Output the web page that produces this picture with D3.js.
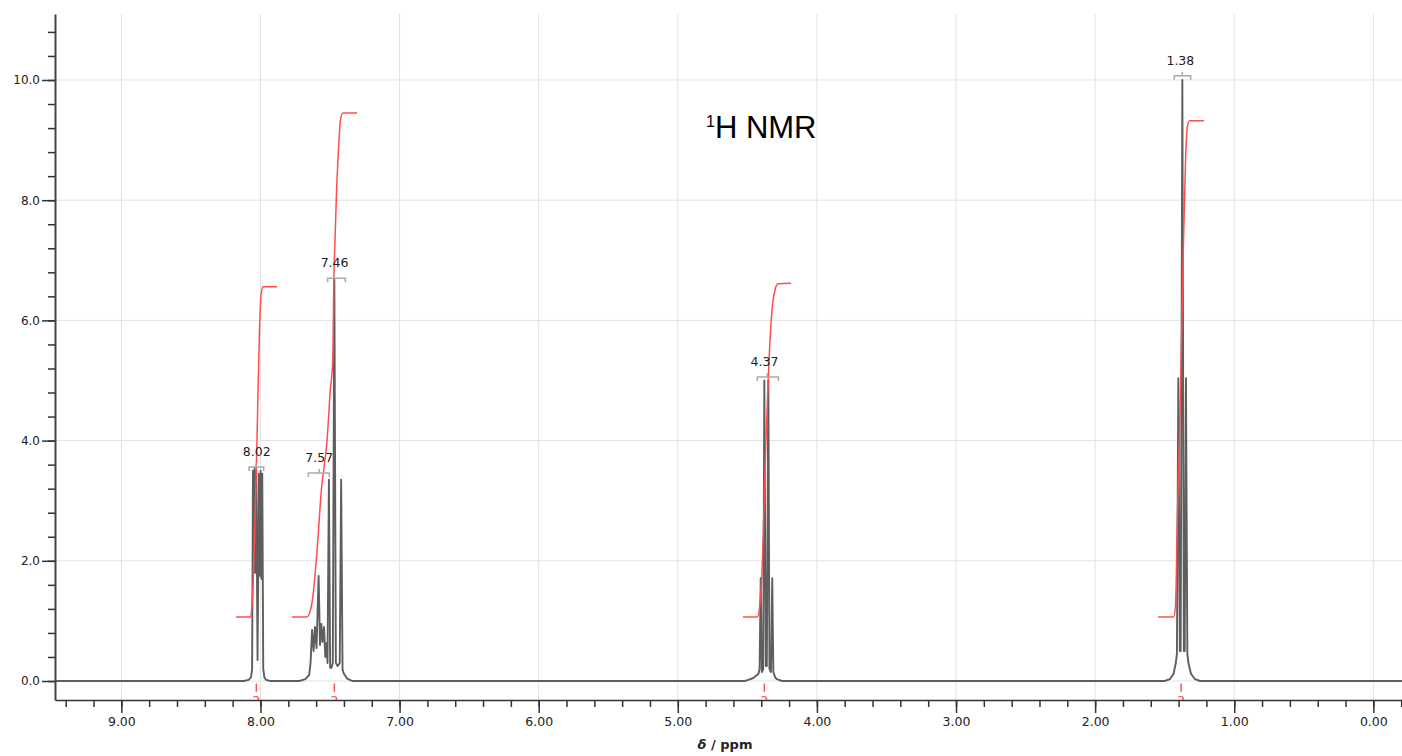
<!DOCTYPE html>
<html>
<head>
<meta charset="utf-8">
<script src="https://cdn.jsdelivr.net/npm/d3@7"></script>
<style>
  body { margin: 0; background: #fff; }
  svg { display: block; }
  .tick text { font-family: "DejaVu Sans", Verdana, sans-serif; fill: #222; }
</style>
</head>
<body>
<svg id="chart" width="1402" height="756"></svg>
<script>
// spectrum multiplets, [ppm, intensity]
const mult802 = [[8.120, 0], [8.085, 0.02], [8.068, 0.06], [8.060, 0.2], [8.054, 3.5], [8.048, 1.8], [8.042, 3.55],
  [8.036, 1.8], [8.030, 3.5], [8.021, 0.35], [8.011, 3.45], [8.005, 1.75], [7.999, 3.5], [7.993, 1.7], [7.987, 3.45],
  [7.980, 0.2], [7.972, 0.06], [7.960, 0.02], [7.930, 0]]
const mult757 = [[7.720, 0], [7.678, 0.03], [7.650, 0.10], [7.640, 0.3], [7.629, 0.85], [7.618, 0.5], [7.608, 0.9],
  [7.597, 0.55], [7.582, 1.75], [7.572, 0.6], [7.562, 0.95], [7.554, 0.65], [7.543, 0.9], [7.534, 0.4], [7.527, 0.63],
  [7.518, 0.3], [7.508, 3.35], [7.499, 0.22], [7.490, 0.22], [7.480, 0.3], [7.469, 6.7], [7.458, 0.3], [7.445, 0.25],
  [7.430, 0.3], [7.420, 3.35], [7.410, 0.2], [7.402, 0.13], [7.377, 0.04], [7.340, 0]]
const mult437 = [[4.520, 0], [4.493, 0.02], [4.457, 0.05], [4.420, 0.12], [4.412, 0.2], [4.404, 1.71], [4.396, 0.15],
  [4.386, 0.2], [4.378, 5.0], [4.367, 0.25], [4.360, 0.25], [4.349, 5.0], [4.341, 0.2], [4.330, 0.15], [4.321, 1.71],
  [4.313, 0.15], [4.300, 0.06], [4.289, 0.03], [4.250, 0]]
const mult138 = [[1.500, 0], [1.462, 0.03], [1.436, 0.12], [1.420, 0.3], [1.412, 0.45], [1.402, 5.04], [1.391, 0.5],
  [1.385, 0.5], [1.373, 10.0], [1.362, 0.5], [1.356, 0.5], [1.347, 5.04], [1.337, 0.45], [1.329, 0.3], [1.311, 0.12],
  [1.282, 0.03], [1.246, 0]]

// integral curves, [ppm, value]
const integ802 = [[8.176, 1.065], [8.070, 1.065], [8.061, 1.26], [8.054, 1.56], [8.025, 4.01], [8.007, 5.84],
  [7.996, 6.42], [7.982, 6.56], [7.881, 6.56]]
const integ757 = [[7.774, 1.065], [7.666, 1.065], [7.644, 1.15], [7.622, 1.43], [7.593, 2.18], [7.562, 3.18],
  [7.521, 4.01], [7.498, 4.84], [7.480, 5.34], [7.473, 6.62], [7.464, 7.34], [7.454, 8.09], [7.439, 8.84],
  [7.425, 9.33], [7.407, 9.45], [7.306, 9.45]]
const integ437 = [[4.531, 1.065], [4.428, 1.065], [4.409, 1.30], [4.397, 1.71], [4.366, 4.01], [4.337, 5.67],
  [4.319, 6.26], [4.301, 6.51], [4.280, 6.61], [4.186, 6.62]]
const integ138 = [[1.548, 1.065], [1.436, 1.065], [1.422, 1.26], [1.409, 2.68], [1.385, 4.96], [1.366, 7.17],
  [1.350, 8.67], [1.337, 9.22], [1.321, 9.32], [1.217, 9.32]]

// peak labels
const peakLabels = ["8.02", "7.57", "7.46", "4.37", "1.38"]
const peakPos = [8.02, 7.57, 7.46, 4.37, 1.38]
const bracketFrom = [8.082, 7.656, 7.517, 4.428, 1.431]
const bracketTo = [7.977, 7.505, 7.390, 4.277, 1.313]
const bracketMid = [8.030, 7.577, 7.469, 4.357, 1.373]
const bracketLevel = [3.56, 3.46, 6.70, 5.06, 10.07]

// integration marks under the baseline
const integPos = [8.030, 7.469, 4.378, 1.382]
const integText = ["2", "2", "2", "2"]

const xMajor = [9, 8, 7, 6, 5, 4, 3, 2, 1, 0]
const yMajor = [0, 2, 4, 6, 8, 10]
const xDomain = [9.477, -0.206]
const yDomain = [-0.316, 11.098]

let svg = d3.select("#chart")
let margin = { left: 55, right: 0, top: 14, bottom: 56 }
let width = 1402, height = 756

let xScale = d3.scaleLinear().domain(xDomain).range([margin.left, width - margin.right])
let yScale = d3.scaleLinear().domain(yDomain).range([height - margin.bottom, margin.top])
let y0 = yScale.range()[0]

svg.append("defs").append("clipPath").attr("id", "plotClip")
  .append("rect")
  .attr("x", margin.left).attr("y", margin.top)
  .attr("width", width - margin.left - margin.right)
  .attr("height", y0 - margin.top)

// grid
let grid = svg.append("g")
grid.selectAll(".vg").data(xMajor).enter().append("line")
  .attr("x1", d => xScale(d)).attr("x2", d => xScale(d))
  .attr("y1", margin.top).attr("y2", y0)
  .attr("stroke", "#e2e2e2").attr("stroke-width", 1)
grid.selectAll(".hg").data(yMajor).enter().append("line")
  .attr("x1", margin.left).attr("x2", width)
  .attr("y1", d => yScale(d)).attr("y2", d => yScale(d))
  .attr("stroke", "#e2e2e2").attr("stroke-width", 1)

let plot = svg.append("g").attr("clip-path", "url(#plotClip)")

// spectrum trace
let trace = [[xDomain[0], 0]].concat(mult802, mult757, mult437, mult138, [[xDomain[1], 0]])
let line = d3.line().x(d => xScale(d[0])).y(d => yScale(d[1]))
plot.append("path")
  .datum(trace)
  .attr("d", line)
  .attr("fill", "none")
  .attr("stroke", "#5e5e5e")
  .attr("stroke-width", 1.9)
  .attr("stroke-linejoin", "round")

// integrals
let integLine = d3.line().x(d => xScale(d[0])).y(d => yScale(d[1])).curve(d3.curveMonotoneX)
plot.selectAll(".integ").data([integ802, integ757, integ437, integ138]).enter()
  .append("path")
  .attr("d", integLine)
  .attr("fill", "none")
  .attr("stroke", "#ff4d4d")
  .attr("stroke-width", 1.5)

// integration marks
plot.selectAll(".imark").data(integPos).enter().append("line")
  .attr("x1", d => xScale(d)).attr("x2", d => xScale(d))
  .attr("y1", yScale(-0.04)).attr("y2", yScale(-0.18))
  .attr("stroke", "#ff4d4d").attr("stroke-width", 1.4)
plot.selectAll(".itext").data(integPos).enter().append("text")
  .attr("x", d => xScale(d)).attr("y", yScale(-0.2) + 12)
  .attr("text-anchor", "middle")
  .attr("font-family", "DejaVu Sans, sans-serif").attr("font-size", "13px")
  .attr("fill", "#ff4d4d")
  .text((d, i) => integText[i])

// peak brackets and labels
let brackets = svg.append("g")
peakLabels.forEach(function (lab, i) {
  let yb = yScale(bracketLevel[i])
  let xa = xScale(bracketFrom[i]), xb = xScale(bracketTo[i]), xm = xScale(bracketMid[i])
  brackets.append("path")
    .attr("d", "M" + xa + "," + (yb + 4) + "V" + yb + "H" + xb + "V" + (yb + 4) + "M" + xm + "," + yb + "V" + (yb - 4))
    .attr("fill", "none").attr("stroke", "#aaa").attr("stroke-width", 1.5)
  brackets.append("text")
    .attr("x", xScale(peakPos[i]) - 1).attr("y", yb - 11)
    .attr("text-anchor", "middle")
    .attr("font-family", "DejaVu Sans, sans-serif").attr("font-size", "12.5px")
    .attr("fill", "#222")
    .text(lab)
})

// axes
let xAxis = svg.append("g").attr("transform", "translate(0," + y0 + ")")
  .call(d3.axisBottom(xScale).tickValues(d3.range(-0.2, 9.5, 0.2)).tickSize(7).tickSizeOuter(0).tickFormat(""))
xAxis.append("g")
  .call(d3.axisBottom(xScale).tickValues(xMajor).tickSize(13).tickSizeOuter(0).tickPadding(4).tickFormat(d3.format(".2f")))
  .call(g => g.select(".domain").remove())
xAxis.selectAll("text").attr("font-size", "12.5px")
xAxis.selectAll("line, path").attr("stroke", "#333").attr("stroke-width", 1.5)

let yAxis = svg.append("g").attr("transform", "translate(" + margin.left + ",0)")
  .call(d3.axisLeft(yScale).tickValues(d3.range(0, 11, 0.4)).tickSize(7).tickSizeOuter(0).tickFormat(""))
yAxis.append("g")
  .call(d3.axisLeft(yScale).tickValues(yMajor).tickSize(13).tickSizeOuter(0).tickPadding(2).tickFormat(d3.format(".1f")))
  .call(g => g.select(".domain").remove())
yAxis.selectAll("text").attr("font-size", "12px")
yAxis.selectAll("line").attr("stroke", "#333").attr("stroke-width", 1.5)
yAxis.select(".domain").attr("stroke", "#444").attr("stroke-width", 2)

// axis title
let xt = svg.append("text")
  .attr("x", 725).attr("y", 749)
  .attr("text-anchor", "middle")
  .attr("font-family", "DejaVu Sans, sans-serif").attr("font-size", "13px")
  .attr("font-weight", "bold").attr("fill", "#222")
xt.append("tspan").attr("font-style", "italic").text("δ")
xt.append("tspan").text(" / ppm")

// title
let title = svg.append("text")
  .attr("x", 706).attr("y", 138)
  .attr("font-family", "Liberation Sans, Arial, sans-serif")
  .attr("fill", "#000")
title.append("tspan").attr("font-size", "16px").attr("dy", -11).text("1")
title.append("tspan").attr("font-size", "31px").attr("dy", 11).text("H NMR")
</script>
</body>
</html>
